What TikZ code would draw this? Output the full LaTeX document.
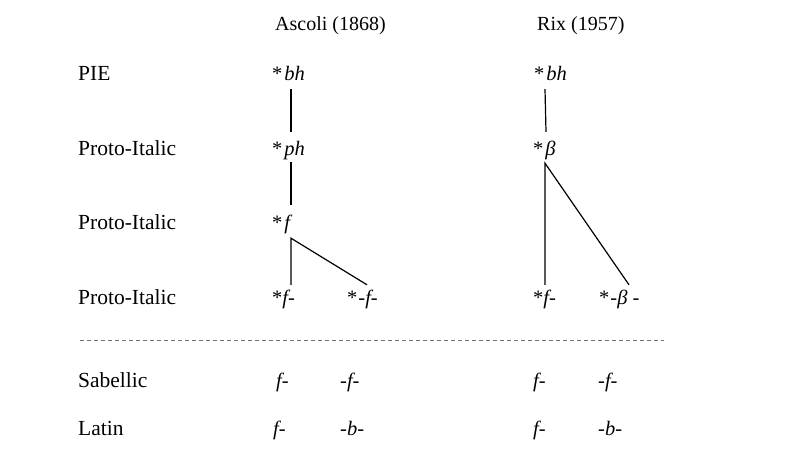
\documentclass[tikz,border=0pt]{standalone}
\usepackage{fontspec}
\setmainfont{Liberation Serif}
\begin{document}
\begin{tikzpicture}[x=1pt,y=-1pt,
  head/.style={anchor=base west,inner sep=0pt,font=\fontsize{20}{24}\selectfont},
  lab/.style={anchor=base west,inner sep=0pt,font=\fontsize{21.5}{24}\selectfont},
  form/.style={anchor=base west,inner sep=0pt,text height=14pt,text depth=4pt,font=\fontsize{20.5}{24}\selectfont},
  tline/.style={draw=black,line width=1.2pt},
  sep/.style={draw=black!55,line width=0.9pt,dash pattern=on 4pt off 3pt}]
\useasboundingbox (0,0) rectangle (789,460);
% headers
\node[head] (hA) at (275,31) {Ascoli (1868)};
\node[head] (hR) at (537,31) {Rix (1957)};
% row labels
\node[lab] (rPIE) at (78,81) {PIE};
\node[lab] (rPI1) at (78,155) {Proto-Italic};
\node[lab] (rPI2) at (78,229) {Proto-Italic};
\node[lab] (rPI3) at (78,304) {Proto-Italic};
\node[lab] (rSab) at (78,387) {Sabellic};
\node[lab] (rLat) at (78,435) {Latin};
% Ascoli tree
\node[form] (abh) at (272,81) {*\hspace{2pt}\textit{bh}};
\node[form] (aph) at (272,155) {*\hspace{2pt}\textit{ph}};
\node[form] (af) at (272,229) {*\hspace{2pt}\textit{f}};
\node[form] (af1) at (272,304) {*\textit{f-}};
\node[form] (af2) at (347,304) {*\hspace{1pt}\textit{-f-}};
\coordinate (acol) at (291,0);
\coordinate (acol2) at (367,0);
\draw[tline] ([yshift=-4pt]abh.south -| acol) -- ([yshift=9pt]aph.north -| acol);
\draw[tline] ([yshift=-3pt]aph.south -| acol) -- ([yshift=10pt]af.north -| acol);
\draw[tline] ([yshift=5pt]af1.north -| acol) -- ([yshift=-5pt]af.south -| acol) -- ([yshift=5pt]af2.north -| acol2);
% Rix tree
\node[form] (rbh) at (534,81) {*\hspace{2pt}\textit{bh}};
\node[form] (rb) at (533,155) {*\hspace{2pt}\textit{β}};
\node[form] (rf1) at (533,304) {*\textit{f-}};
\node[form] (rb2) at (599,304) {*\hspace{1pt}\textit{-β -}};
\coordinate (rcol) at (545,0);
\coordinate (rcolb) at (546,0);
\coordinate (rcol2) at (629,0);
\draw[tline] ([yshift=-4pt]rbh.south -| rcol) -- ([yshift=9pt]rb.north -| rcolb);
\draw[tline] ([yshift=5pt]rf1.north -| rcol) -- ([yshift=-4pt]rb.south -| rcol) -- ([yshift=5pt]rb2.north -| rcol2);
% separator
\coordinate (sepL) at (80,340);
\coordinate (sepR) at (664,340);
\draw[sep] (sepL) -- (sepR);
% lower rows
\node[form] (sAf) at (276,387) {\textit{f-}};
\node[form] (sAm) at (340,387) {\textit{-f-}};
\node[form] (sRf) at (533,387) {\textit{f-}};
\node[form] (sRm) at (598,387) {\textit{-f-}};
\node[form] (lAf) at (273,435) {\textit{f-}};
\node[form] (lAm) at (340,435) {\textit{-b-}};
\node[form] (lRf) at (533,435) {\textit{f-}};
\node[form] (lRm) at (598,435) {\textit{-b-}};
\end{tikzpicture}
\end{document}
